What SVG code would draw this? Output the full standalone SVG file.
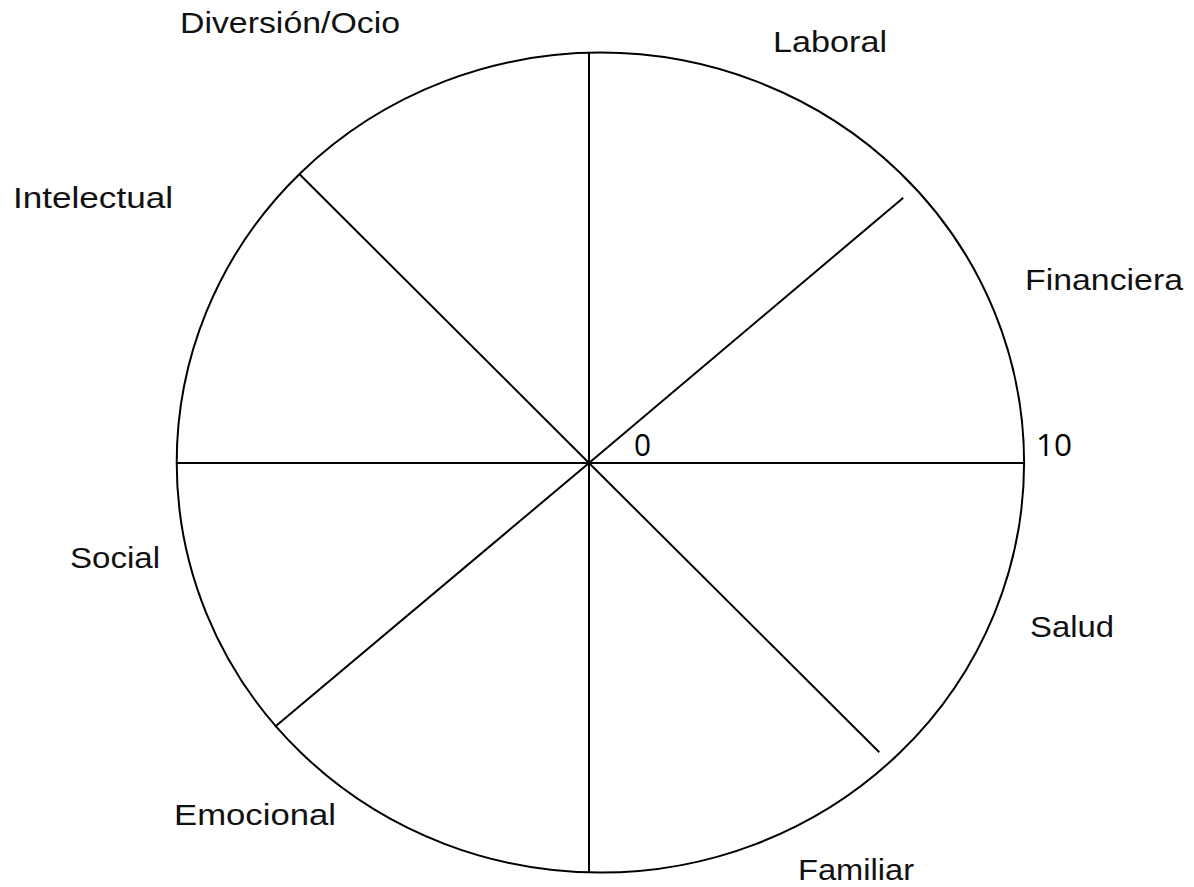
<svg xmlns="http://www.w3.org/2000/svg" width="1194" height="887" viewBox="0 0 1194 887">
<style>
.l{font-family:"Liberation Sans",Arial,sans-serif;font-size:30px;fill:#111}
.n{font-family:"Open Sans","Noto Sans",sans-serif;font-size:31px;fill:#000}
.s{stroke:#000;stroke-width:2;fill:none}
</style>
<rect width="1194" height="887" fill="#fff"/>
<g id="wheel">
<ellipse class="s" cx="600.4" cy="462.6" rx="423.7" ry="410"/>
</g>
<g id="spokes">
<line class="s" x1="589" y1="52.6" x2="589" y2="872.6"/>
<line class="s" x1="176.7" y1="463" x2="1024.1" y2="463"/>
<line class="s" x1="589" y1="463" x2="299.3" y2="174"/>
<line class="s" x1="589" y1="463" x2="903.3" y2="197.7"/>
<line class="s" x1="589" y1="463" x2="275" y2="726.7"/>
<line class="s" x1="589" y1="463" x2="879.3" y2="752.3"/>
</g>
<g id="labels">
<text class="l" x="180" y="33" textLength="220" lengthAdjust="spacingAndGlyphs">Diversión/Ocio</text>
<text class="l" x="773" y="52" textLength="114" lengthAdjust="spacingAndGlyphs">Laboral</text>
<text class="l" x="13" y="208" textLength="160" lengthAdjust="spacingAndGlyphs">Intelectual</text>
<text class="l" x="1025" y="290" textLength="158" lengthAdjust="spacingAndGlyphs">Financiera</text>
<text class="l" x="70" y="568" textLength="90" lengthAdjust="spacingAndGlyphs">Social</text>
<text class="l" x="1030" y="637" textLength="84" lengthAdjust="spacingAndGlyphs">Salud</text>
<text class="l" x="174" y="825" textLength="162" lengthAdjust="spacingAndGlyphs">Emocional</text>
<text class="l" x="798" y="880" textLength="116" lengthAdjust="spacingAndGlyphs">Familiar</text>
<text class="n" x="634" y="456" textLength="17" lengthAdjust="spacingAndGlyphs">0</text>
<text class="n" x="1036" y="456" textLength="36" lengthAdjust="spacingAndGlyphs">10</text>
</g>
</svg>
